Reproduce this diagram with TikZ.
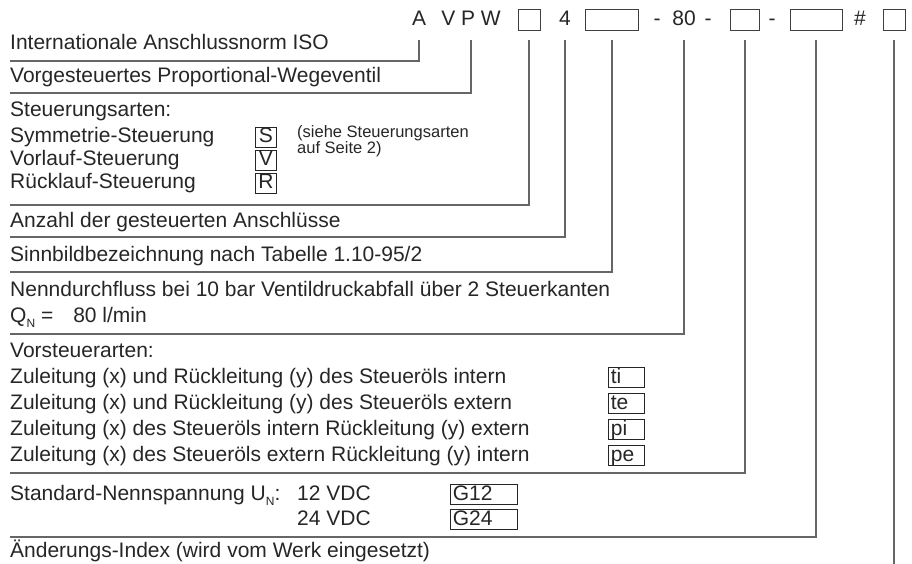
\documentclass[tikz,border=0pt]{standalone}
\usepackage{fontspec}
\setmainfont{Liberation Sans}
\usetikzlibrary{positioning}
\newcommand{\lowidx}[1]{\raisebox{-5pt}{\fontsize{12}{12}\selectfont #1}}

\begin{document}
\begin{tikzpicture}[x=1pt, y=-1pt, font=\fontsize{21}{25}\selectfont]
  \tikzset{
    hdr/.style={text height=15pt, text depth=4pt, inner ysep=1pt, inner xsep=0pt, text=black!85},
    slot/.style={hdr, draw=black!75, line width=0.9pt},
    txt/.style={anchor=base west, inner sep=0pt, text=black!85},
    key/.style={draw=black!85, line width=0.8pt, anchor=base west, inner xsep=2.5pt, inner ysep=1.5pt,
                text height=14.5pt, text depth=3pt, text=black!85},
    leader/.style={draw=black!60, line width=1.2pt}
  }
  \useasboundingbox (0,0) rectangle (912,564);
  % type code
  \node[hdr] (hA) at (419,20) {A};
  \node[hdr] (hVPW) at (471,20) {V P W};
  \node[slot, minimum width=22pt] (hArt) at (529,20) {};
  \node[hdr] (h4) at (565,20) {4};
  \node[slot, minimum width=53pt] (hSym) at (612,20) {};
  \node[hdr] (hD1) at (657,20) {-};
  \node[hdr] (h80) at (684,20) {80};
  \node[hdr] (hD2) at (708,20) {-};
  \node[slot, minimum width=29pt] (hVst) at (745,20) {};
  \node[hdr] (hD3) at (772,20) {-};
  \node[slot, minimum width=52pt] (hSpg) at (816,20) {};
  \node[hdr] (hHash) at (860,20) {\#};
  \node[slot, minimum width=22pt] (hIdx) at (894,20) {};
  % descriptions
  \node[txt] (tISO) at (10,49.5) {Internationale Anschlussnorm ISO};
  \node[txt] (tWege) at (10,83) {Vorgesteuertes Proportional-Wegeventil};
  \node[txt] (tArt) at (10,117) {Steuerungsarten:};
  \node[txt] (tSym) at (10,143) {Symmetrie-Steuerung};
  \node[txt] (tVor) at (10,166) {Vorlauf-Steuerung};
  \node[txt] (tRue) at (10,189) {Rücklauf-Steuerung};
  \node[key, minimum width=21pt] (kS) at (255,143) {S};
  \node[key, minimum width=21pt] (kV) at (255,166) {V};
  \node[key, minimum width=21pt] (kR) at (255,189) {R};
  \node[txt, align=left, font=\fontsize{16.5}{17}\selectfont] (tNote) at (297,154)
    {(siehe Steuerungsarten\\auf Seite 2)};
  \node[txt] (tAnz) at (10,227) {Anzahl der gesteuerten Anschlüsse};
  \node[txt] (tSinn) at (10,261) {Sinnbildbezeichnung nach Tabelle 1.10-95/2};
  \node[txt] (tNenn) at (10,296) {Nenndurchfluss bei 10 bar Ventildruckabfall über 2 Steuerkanten};
  \node[txt] (tQ) at (10,322) {Q\lowidx{N} =\hspace{20pt}80 l/min};
  \node[txt] (tVst) at (10,357) {Vorsteuerarten:};
  \node[txt] (tTi) at (10,383) {Zuleitung (x) und Rückleitung (y) des Steueröls intern};
  \node[txt] (tTe) at (10,409) {Zuleitung (x) und Rückleitung (y) des Steueröls extern};
  \node[txt] (tPi) at (10,435) {Zuleitung (x) des Steueröls intern Rückleitung (y) extern};
  \node[txt] (tPe) at (10,461) {Zuleitung (x) des Steueröls extern Rückleitung (y) intern};
  \node[key, text width=31pt] (kTi) at (608,383) {ti};
  \node[key, text width=31pt] (kTe) at (608,409) {te};
  \node[key, text width=31pt] (kPi) at (608,435) {pi};
  \node[key, text width=31pt] (kPe) at (608,461) {pe};
  \node[txt] (tStd) at (10,500) {Standard-Nennspannung U\lowidx{N}:};
  \node[txt] (t12) at (297,500) {12 VDC};
  \node[txt] (t24) at (297,525) {24 VDC};
  \node[key, text width=62pt] (kG12) at (450,500) {G12};
  \node[key, text width=62pt] (kG24) at (450,525) {G24};
  \node[txt] (tAen) at (10,557) {Änderungs-Index (wird vom Werk eingesetzt)};
  % leaders
  \foreach \src/\y in {hA/61, hVPW/93, hArt/205, h4/237, hSym/272, h80/334, hVst/473, hSpg/537}{
    \coordinate (e\src) at (10,\y);
    \draw[leader] ([yshift=-9pt]\src.south) |- (e\src);
  }
  \coordinate (eIdx) at (894,564);
  \draw[leader] ([yshift=-9pt]hIdx.south) -- (eIdx);
\end{tikzpicture}
\end{document}
